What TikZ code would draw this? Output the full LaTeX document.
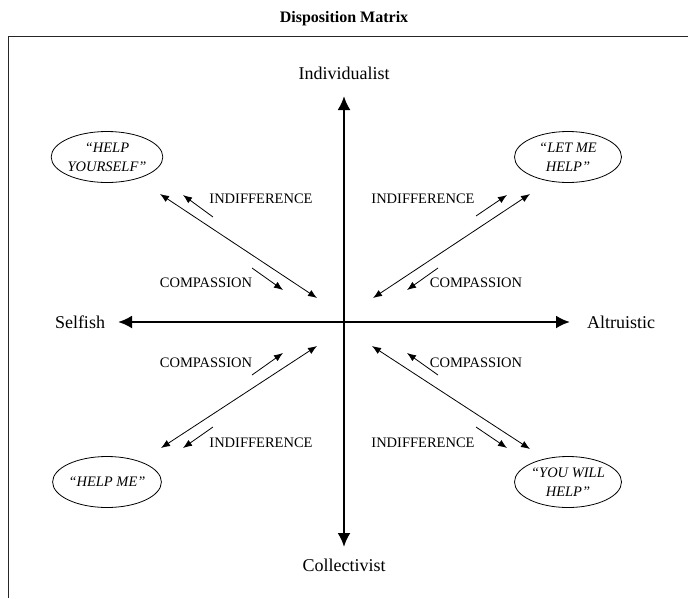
\documentclass[tikz,border=0pt]{standalone}
\usepackage{fontspec}
\setmainfont{Liberation Serif}
\usetikzlibrary{arrows.meta,shapes.geometric}
\tikzset{
  axis/.style={line width=2.4pt,{Latex[length=14pt,width=13pt]}-{Latex[length=14pt,width=13pt]}},
  diag/.style={line width=0.8pt,{Latex[length=9pt,width=7pt]}-{Latex[length=9pt,width=7pt]}},
  onearrow/.style={line width=0.8pt,-{Latex[length=9pt,width=7pt]}},
  lbl/.style={font=\fontsize{14.5}{16}\selectfont,inner sep=0pt},
  axlbl/.style={font=\fontsize{18}{21}\selectfont,inner sep=0pt},
  oval/.style={ellipse,draw,line width=0.8pt,minimum width=107pt,minimum height=51pt,inner sep=0pt,align=center,font=\itshape\fontsize{14.5}{18.5}\selectfont},
  frameline/.style={line width=0.9pt,draw=black!85}
}
\begin{document}
\begin{tikzpicture}[x=1pt,y=-1pt]
\useasboundingbox (0,0) rectangle (688,598);
% frame
\coordinate (fTR) at (688,36);
\coordinate (fTL) at (8,36);
\coordinate (fBL) at (8,598);
\draw[frameline] (fTR) -- (fTL) -- (fBL);
% title
\node[font=\bfseries\fontsize{16}{18}\selectfont] (title) at (344,19) {Disposition Matrix};
% axis labels
\node[axlbl] (ind) at (344,73) {Individualist};
\node[axlbl] (col) at (344,565) {Collectivist};
\node[axlbl] (sel) at (80,322) {Selfish};
\node[axlbl] (alt) at (621,322) {Altruistic};
% axes
\coordinate (axT) at (344,96);
\coordinate (axB) at (344,547);
\coordinate (axL) at (118,322);
\coordinate (axR) at (570,322);
\draw[axis] (axB) -- (axT);
\draw[axis] (axL) -- (axR);
% ovals
\node[oval] (hy) at (107,157) {“HELP\\YOURSELF”};
\node[oval] (lmh) at (568,157) {“LET ME\\HELP”};
\node[oval] (hm) at (107,482) {“HELP ME”};
\node[oval] (ywh) at (568,482) {“YOU WILL\\HELP”};
% upper left
\coordinate (ulA) at (160,194);
\coordinate (ulB) at (317,298);
\draw[diag] (ulA) -- (ulB);
\coordinate (ulIs) at (213,217);
\coordinate (ulIe) at (183,195);
\draw[onearrow] (ulIs) -- (ulIe);
\node[lbl] (ulI) at (261,199) {INDIFFERENCE};
\coordinate (ulCs) at (252,268);
\coordinate (ulCe) at (283,290);
\draw[onearrow] (ulCs) -- (ulCe);
\node[lbl] (ulC) at (206,283) {COMPASSION};
% upper right
\coordinate (urA) at (530,194);
\coordinate (urB) at (373,298);
\draw[diag] (urA) -- (urB);
\coordinate (urIs) at (476,216);
\coordinate (urIe) at (507,195);
\draw[onearrow] (urIs) -- (urIe);
\node[lbl] (urI) at (423,199) {INDIFFERENCE};
\coordinate (urCs) at (438,268);
\coordinate (urCe) at (407,290);
\draw[onearrow] (urCs) -- (urCe);
\node[lbl] (urC) at (476,283) {COMPASSION};
% lower left
\coordinate (llA) at (161,448);
\coordinate (llB) at (317,346);
\draw[diag] (llA) -- (llB);
\coordinate (llCs) at (252,375);
\coordinate (llCe) at (283,353);
\draw[onearrow] (llCs) -- (llCe);
\node[lbl] (llC) at (206,363) {COMPASSION};
\coordinate (llIs) at (213,427);
\coordinate (llIe) at (183,448);
\draw[onearrow] (llIs) -- (llIe);
\node[lbl] (llI) at (261,443) {INDIFFERENCE};
% lower right
\coordinate (lrA) at (372,346);
\coordinate (lrB) at (530,449);
\draw[diag] (lrA) -- (lrB);
\coordinate (lrCs) at (438,375);
\coordinate (lrCe) at (407,353);
\draw[onearrow] (lrCs) -- (lrCe);
\node[lbl] (lrC) at (476,363) {COMPASSION};
\coordinate (lrIs) at (476,427);
\coordinate (lrIe) at (507,448);
\draw[onearrow] (lrIs) -- (lrIe);
\node[lbl] (lrI) at (423,443) {INDIFFERENCE};
\end{tikzpicture}
\end{document}
